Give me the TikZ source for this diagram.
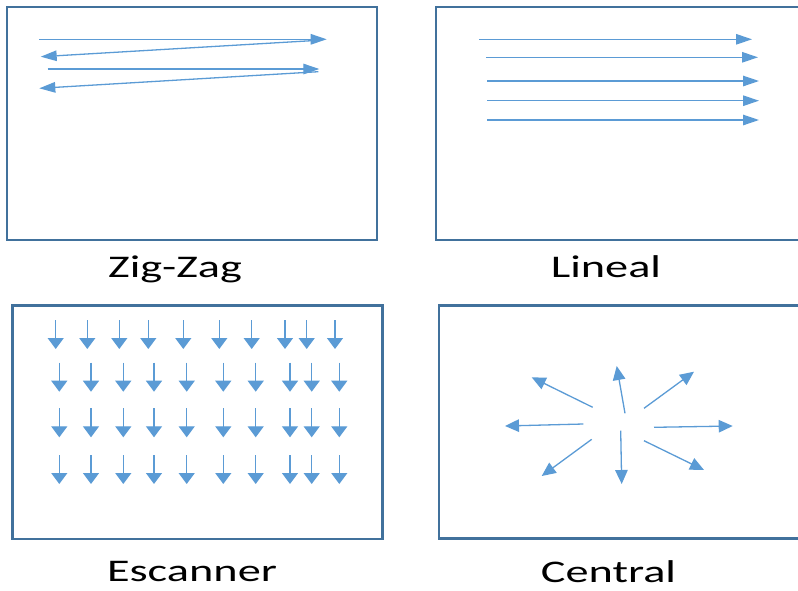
\documentclass[tikz,border=0pt]{standalone}
\usepackage{fontspec}
\newfontfamily\labfont{Carlito}
\usetikzlibrary{arrows.meta}
\definecolor{frameblue}{RGB}{65,113,156}
\definecolor{arrowblue}{RGB}{91,155,213}
\tikzset{
  panel/.style={draw=frameblue, line width=2.6pt},
  harrow/.style={draw=arrowblue, line width=1.3pt, -{Triangle[length=16pt,width=10.5pt]}},
  varrow/.style={draw=arrowblue, line width=1.3pt, -{Triangle[length=11pt,width=16pt]}},
  darrow/.style={draw=arrowblue, line width=1.3pt, -{Triangle[length=14pt,width=12.5pt]}},
  caption/.style={anchor=base, inner sep=0pt, font=\labfont\fontsize{31.5}{31.5}\selectfont, text=black}
}
\begin{document}
\begin{tikzpicture}[x=1pt,y=-1pt]
\useasboundingbox (0,0) rectangle (798,590);
% panels
\draw[panel] (7,7) rectangle (377,240);
\draw[panel] (798,7) -- (436,7) -- (436,240) -- (798,240);
\draw[panel] (12.7,305.7) rectangle (382.7,539);
\draw[panel] (798,305.7) -- (439,305.7) -- (439,538.3) -- (798,538.3);
% captions
\node[caption] (zz) at (175,277) {\scalebox{1.47}[1]{Zig-Zag}};
\node[caption] (li) at (606,277) {\scalebox{1.47}[1]{Lineal}};
\node[caption] (es) at (192,581) {\scalebox{1.47}[1]{Escanner}};
\node[caption] (ce) at (608.5,582) {\scalebox{1.47}[1]{Central}};
% Zig-Zag
\coordinate (z1a) at (39.3,39.3);  \coordinate (z1b) at (326.7,39.3);
\coordinate (z2a) at (318.3,40.3); \coordinate (z2b) at (40.7,56.7);
\coordinate (z3a) at (47.7,69);    \coordinate (z3b) at (319.3,69);
\coordinate (z4a) at (318.3,71.7); \coordinate (z4b) at (39.3,88.3);
\draw[harrow] (z1a) -- (z1b);
\draw[harrow] (z2a) -- (z2b);
\draw[harrow] (z3a) -- (z3b);
\draw[harrow] (z4a) -- (z4b);
% Lineal
\foreach \i/\xa/\xb/\yy in {1/479/752/39.3, 2/486/758/57.3, 3/487/759/81, 4/487/759/100.7, 5/487/759/120} {
  \coordinate (l\i a) at (\xa,\yy);
  \coordinate (l\i b) at (\xb,\yy);
  \draw[harrow] (l\i a) -- (l\i b);
}
% Escanner
\foreach \xx [count=\k] in {55.7,87.3,119.3,148.3,183.3,219.3,251.7,285,306.7,335} {
  \coordinate (e1\k a) at (\xx,320);
  \coordinate (e1\k b) at (\xx,349);
  \draw[varrow] (e1\k a) -- (e1\k b);
}
\foreach \r/\ya/\yb in {2/362.7/391.7, 3/408.3/437.3, 4/455/484} {
  \foreach \xx [count=\k] in {59.3,91,123.3,154,186.7,223.3,255.7,290,311.7,339.3} {
    \coordinate (e\r\k a) at (\xx,\ya);
    \coordinate (e\r\k b) at (\xx,\yb);
    \draw[varrow] (e\r\k a) -- (e\r\k b);
  }
}
% Central
\foreach \n/\xa/\ya/\xb/\yb in {
  ul/592.7/407.3/531.7/377.3,
  up/625/413.3/616.7/366,
  ur/644/408.3/694/371.7,
  lf/583.3/424/505/426,
  rt/654/427.3/732.7/426,
  dl/591.7/439.3/541.7/476,
  dn/620.7/430.7/621.7/484,
  dr/644/440.7/704/470} {
  \coordinate (c\n a) at (\xa,\ya);
  \coordinate (c\n b) at (\xb,\yb);
  \draw[darrow] (c\n a) -- (c\n b);
}
\end{tikzpicture}
\end{document}
